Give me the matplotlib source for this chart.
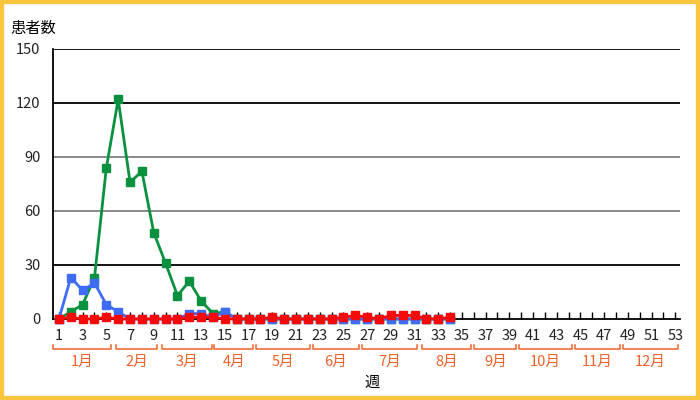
import matplotlib.pyplot as plt
from matplotlib.patches import Rectangle
import matplotlib.transforms as mtransforms

plt.rcParams['font.family'] = ['Noto Sans CJK JP', 'DejaVu Sans']

weeks = list(range(1, 35))
green = [0, 4, 8, 23, 84, 122, 76, 82, 48, 31, 13, 21, 10, 3, 4, 0, 0,
         0, 0, 0, 0, 0, 0, 0, 0, 0, 0, 0, 0, 0, 0, 0, 0, 0]
blue = [0, 23, 16, 20, 8, 4, 0, 0, 0, 0, 0, 3, 3, 1, 4, 0, 0,
        0, 0, 0, 0, 0, 0, 0, 0, 0, 0, 0, 0, 0, 0, 0, 0, 0]
red = [0, 1, 0, 0, 1, 0, 0, 0, 0, 0, 0, 1, 1, 1, 0, 0, 0,
       0, 1, 0, 0, 0, 0, 0, 1, 2, 1, 0, 2, 2, 2, 0, 0, 1]

months = ['1月', '2月', '3月', '4月', '5月', '6月', '7月', '8月', '9月', '10月', '11月', '12月']
month_start = [0.5, 5.8, 9.7, 14.1, 17.6, 22.4, 26.6, 31.6, 36.05, 39.8, 44.5, 48.6]
month_end = [5.4, 9.3, 13.9, 17.4, 22.2, 26.3, 31.2, 35.8, 39.6, 44.3, 48.3, 53.2]

yticks = [0, 30, 60, 90, 120, 150]
grid_colors = {30: 'black', 60: '#808080', 90: '#808080', 120: 'black', 150: 'black'}

fig = plt.figure(figsize=(7, 4), dpi=100)
ax = fig.add_axes([53/700, 1 - 319/400, 627/700, 270/400])

for y, c in grid_colors.items():
    ax.axhline(y, color=c, lw=1.3, zorder=1)

# green first, red on top
ax.plot(weeks, green, color='#0a9140', lw=2, marker='s', ms=5.5, zorder=3, clip_on=False)
ax.plot(weeks, blue, color='#3e6cf5', lw=2, marker='s', ms=5.5, zorder=4, clip_on=False)
ax.plot(weeks, red, color='#f50a0a', lw=2, marker='s', ms=5.5, zorder=5, clip_on=False)

ax.set_xlim(0.5, 53.4)
ax.set_ylim(0, 150)
ax.set_yticks(yticks)
ax.set_xticks(range(1, 54, 2))
ax.set_xticks(range(2, 54, 2), minor=True)
ax.tick_params(axis='y', length=0, pad=9, labelsize=10.5, labelcolor='#222222')
ax.tick_params(axis='x', which='both', direction='in', length=5, width=1,
               pad=7, labelsize=10.5, labelcolor='#222222')
for s in ['top', 'right']:
    ax.spines[s].set_visible(False)
ax.spines['left'].set_linewidth(1.3)
ax.spines['bottom'].set_linewidth(1.3)

trans = mtransforms.blended_transform_factory(ax.transData, ax.transAxes)
orange = '#f0602a'
for name, a, b in zip(months, month_start, month_end):
    ax.plot([a, a, b, b], [-0.098, -0.112, -0.112, -0.098], color=orange, lw=1.1,
            transform=trans, clip_on=False)
    ax.text((a + b) / 2, -0.16, name, color=orange, fontsize=10.5,
            ha='center', va='center', transform=trans)

fig.text(372/700, 1 - 382/400, '週', fontsize=11, ha='center', va='center')
fig.text(10/700, 1 - 28/400, '患者数', fontsize=11, ha='left', va='center')

fig.patches.append(Rectangle((0, 0), 1, 1, transform=fig.transFigure, fill=False,
                             edgecolor='#fbc63f', lw=6, zorder=10))

fig.savefig('out.png', dpi=100)
